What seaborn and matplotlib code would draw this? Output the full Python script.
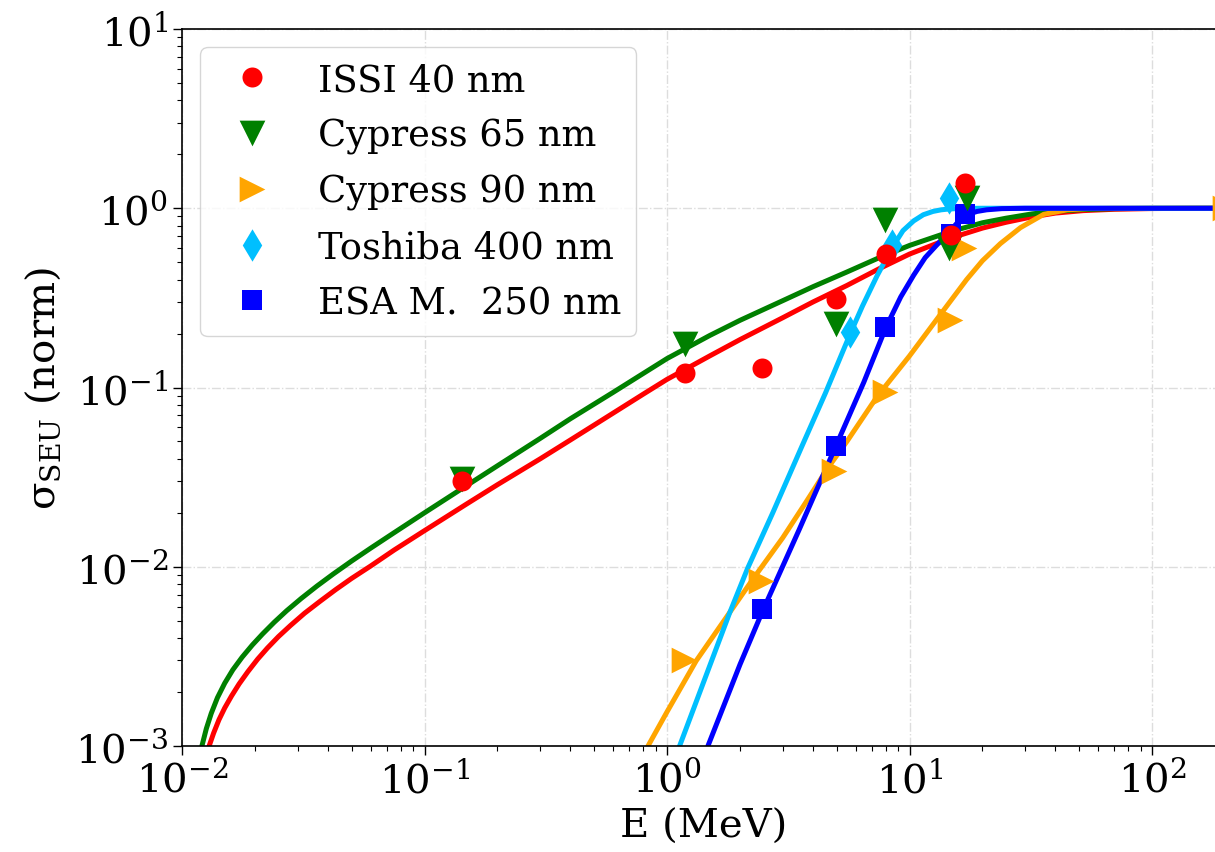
import seaborn as sns
import matplotlib.pyplot as plt

# measured data points (energy in MeV, normalised cross section)
issi_e = [0.143, 1.19, 2.47, 4.98, 8.0, 14.8, 17.0]
issi_s = [0.030, 0.120, 0.128, 0.31, 0.556, 0.709, 1.38]
cy65_e = [0.143, 1.19, 4.98, 7.9, 14.6, 17.2]
cy65_s = [0.031, 0.175, 0.225, 0.86, 0.60, 1.14]
cy90_e = [1.18, 2.44, 4.9, 7.9, 14.7, 16.7, 200]
cy90_s = [0.0030, 0.0083, 0.034, 0.094, 0.237, 0.60, 1.0]
tosh_e = [5.7, 8.46, 14.5]
tosh_s = [0.203, 0.62, 1.14]
esa_e = [2.47, 4.98, 7.95, 14.8, 17.0]
esa_s = [0.0058, 0.047, 0.217, 0.72, 0.925]

# fitted curves
issi_fit_e = [0.01294, 0.0135, 0.0142, 0.0150, 0.0160, 0.0172, 0.0187, 0.0205, 0.0225, 0.025, 0.028,
              0.032, 0.037, 0.043, 0.05, 0.06, 0.075, 0.1, 0.15, 0.2, 0.3, 0.4, 0.6, 0.8,
              1.0, 1.5, 2.0, 3.0, 4.0, 5.5, 7.5, 10, 14.7, 20, 25, 32, 40, 52, 70, 100, 150, 200]
issi_fit_s = [0.001, 0.00118, 0.0014, 0.00163, 0.0019, 0.00222, 0.0026, 0.00305, 0.00352, 0.00408, 0.0047,
              0.0055, 0.0064, 0.00745, 0.0086, 0.0101, 0.0124, 0.0159, 0.0225, 0.0287, 0.040, 0.051, 0.072, 0.092,
              0.111, 0.150, 0.185, 0.245, 0.30, 0.37, 0.46, 0.555, 0.68, 0.775, 0.835, 0.895, 0.94, 0.97, 0.987,
              0.996, 0.999, 1.0]
cy65_fit_e = [0.01208, 0.0126, 0.0132, 0.0140, 0.0150, 0.0162, 0.0177, 0.0195, 0.0215, 0.024, 0.027,
              0.031, 0.036, 0.042, 0.05, 0.06, 0.075, 0.1, 0.15, 0.2, 0.3, 0.4, 0.6, 0.8,
              1.0, 1.5, 2.0, 3.0, 4.0, 5.5, 7.5, 10, 14.7, 20, 25, 32, 40, 52, 70, 100, 200]
cy65_fit_s = [0.001, 0.00125, 0.00152, 0.00186, 0.00224, 0.00266, 0.00313, 0.00366, 0.00422, 0.0049, 0.00568,
              0.00665, 0.0078, 0.0091, 0.01075, 0.0127, 0.0155, 0.0200, 0.0285, 0.0366, 0.052, 0.067, 0.094, 0.120,
              0.145, 0.195, 0.237, 0.305, 0.365, 0.44, 0.53, 0.62, 0.74, 0.83, 0.88, 0.93, 0.962, 0.984, 0.995,
              0.999, 1.0]
cy90_fit_e = [0.835, 1.0, 1.32, 1.7, 2.26, 3.0, 3.74, 4.6, 5.52, 7.35, 10, 13.4, 17.2, 20, 23.7, 28.7,
              35.8, 44.7, 55, 70, 200]
cy90_fit_s = [0.001, 0.00155, 0.00299, 0.0049, 0.00853, 0.0145, 0.0229, 0.0355, 0.050, 0.089, 0.150, 0.255,
              0.40, 0.51, 0.635, 0.78, 0.925, 0.98, 0.996, 1.0, 1.0]
tosh_fit_e = [1.127, 1.5, 1.81, 2.15, 2.73, 3.6, 4.5, 5.7, 6.4, 7.35, 8.46, 9.4, 10.4, 11.4, 12.5, 13.5,
              14.5, 16, 20, 200]
tosh_fit_s = [0.001, 0.0028, 0.0055, 0.0098, 0.020, 0.047, 0.093, 0.20, 0.285, 0.42, 0.60, 0.75, 0.85,
              0.92, 0.96, 0.98, 0.99, 0.997, 1.0, 1.0]
esa_fit_e = [1.475, 2.0, 2.47, 3.5, 5.0, 6.48, 8.0, 9.2, 10.4, 11.6, 12.9, 14.8, 16, 17.2, 19, 20.8,
             24, 30, 200]
esa_fit_s = [0.001, 0.00285, 0.0056, 0.016, 0.048, 0.107, 0.217, 0.32, 0.423, 0.53, 0.62, 0.755, 0.85,
             0.92, 0.96, 0.98, 0.995, 1.0, 1.0]

labels = ['ISSI 40 nm', 'Cypress 65 nm', 'Cypress 90 nm', 'Toshiba 400 nm', 'ESA M.  250 nm']
colors = ['red', 'green', 'orange', 'deepskyblue', 'blue']
markers = ['o', 'v', '>', 'd', 's']
msizes = [14.4, 18.5, 18.5, 16.5, 14.4]

sns.set_theme(style='ticks')
plt.rcParams['font.family'] = ['DejaVu Serif']
plt.rcParams['mathtext.fontset'] = 'dejavuserif'
plt.rcParams['text.color'] = 'black'
plt.rcParams['axes.labelcolor'] = 'black'
plt.rcParams['xtick.color'] = 'black'
plt.rcParams['ytick.color'] = 'black'

fig = plt.figure(figsize=(12.15, 8.53), dpi=100)
ax = fig.add_axes([182 / 1215, 106 / 853, 1043 / 1215, 717 / 853])
ax.set_xscale('log')
ax.set_yscale('log')

points = [(issi_e, issi_s), (cy65_e, cy65_s), (cy90_e, cy90_s), (tosh_e, tosh_s), (esa_e, esa_s)]
fits = [(issi_fit_e, issi_fit_s), (cy65_fit_e, cy65_fit_s), (cy90_fit_e, cy90_fit_s),
        (tosh_fit_e, tosh_fit_s), (esa_fit_e, esa_fit_s)]

# fit curves first, then the measured points on top
for (fx, fy), c in zip(fits, colors):
    sns.lineplot(x=fx, y=fy, ax=ax, color=c, lw=3.6, estimator=None, sort=False, legend=False, zorder=2)

handles = {}
for i in reversed(range(5)):
    px, py = points[i]
    sns.scatterplot(x=px, y=py, ax=ax, marker=markers[i], s=msizes[i] ** 2, color=colors[i],
                    linewidth=0, zorder=3, legend=False)
    handles[i] = ax.collections[-1]

ax.set_xlim(1e-2, 200)
ax.set_ylim(1e-3, 10)
ax.grid(True, which='major', linestyle='-.', color='#dddddd', lw=1.0)
ax.tick_params(which='major', direction='out', length=6.5, width=1, color='black', labelsize=29)
ax.tick_params(which='minor', direction='out', length=3.5, width=0.8, color='black')
for sp in ax.spines.values():
    sp.set_color('black')
    sp.set_linewidth(1.2)

ax.set_xlabel('E (MeV)', fontsize=29, labelpad=6)
ax.set_ylabel('σ$_{\\mathrm{SEU}}$ (norm)', fontsize=29, labelpad=9)

ax.legend([handles[i] for i in range(5)], labels, loc='upper left', fontsize=26.5, labelspacing=0.53,
          scatterpoints=1, scatteryoffsets=[0.5], frameon=True, edgecolor='0.8')

fig.savefig('out.png', dpi=100)
